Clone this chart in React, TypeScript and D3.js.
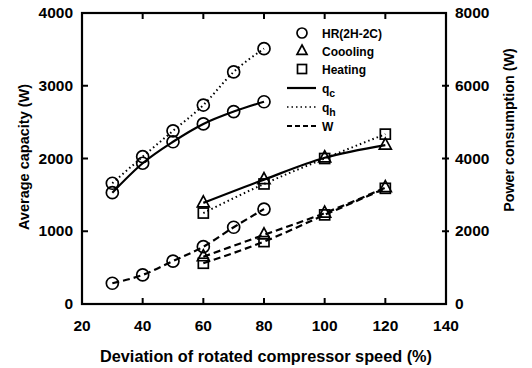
import React from "react";
import * as d3 from "d3";

const hrSpeed = [30, 40, 50, 60, 70, 80];
const hrQc = [1530, 1935, 2230, 2475, 2645, 2780];
const hrQh = [1660, 2025, 2380, 2735, 3190, 3510];
const hrW = [570, 800, 1180, 1575, 2110, 2610];

const convSpeed = [60, 80, 100, 120];
const coolQc = [1390, 1710, 2010, 2185];
const heatQh = [1250, 1650, 2000, 2335];
const coolW = [1300, 1900, 2500, 3200];
const heatW = [1120, 1715, 2450, 3180];

const xTicks = [20, 40, 60, 80, 100, 120, 140];
const yLeftTicks = [0, 1000, 2000, 3000, 4000];
const yRightTicks = [0, 2000, 4000, 6000, 8000];

const W = 532, H = 368;
const L = 82, R = 446, T = 13, B = 304;

export default function App() {
  const x = d3.scaleLinear().domain([20, 140]).range([L, R]);
  const yl = d3.scaleLinear().domain([0, 4000]).range([B, T]);
  const yr = d3.scaleLinear().domain([0, 8000]).range([B, T]);
  const font = "'Liberation Sans', Arial, sans-serif";

  const mk = (xs: number[], ys: number[], ys2: d3.ScaleLinear<number, number>) =>
    d3.line<number>().x((_, i) => x(xs[i])).y((v) => ys2(v)).curve(d3.curveMonotoneX)(ys) || "";

  const circle = (cx: number, cy: number, k: string, r = 6) => (
    <circle key={k} cx={cx} cy={cy} r={r} fill="none" stroke="#000" strokeWidth={1.7} />
  );
  const tri = (cx: number, cy: number, k: string, s = 6) => (
    <path key={k} d={`M${cx},${cy - s - 1}L${cx + s},${cy + s * 0.67}L${cx - s},${cy + s * 0.67}Z`} fill="none" stroke="#000" strokeWidth={1.7} />
  );
  const sq = (cx: number, cy: number, k: string, s = 5) => (
    <rect key={k} x={cx - s} y={cy - s} width={2 * s} height={2 * s} fill="none" stroke="#000" strokeWidth={1.7} />
  );

  const solid = { fill: "none", stroke: "#000", strokeWidth: 2.2 };
  const dotted = { fill: "none", stroke: "#000", strokeWidth: 2, strokeDasharray: "1.5,3" };
  const dashed = { fill: "none", stroke: "#000", strokeWidth: 2.2, strokeDasharray: "7,4" };

  const legendRows = [
    { label: "HR(2H-2C)", kind: "c" },
    { label: "Coooling", kind: "t" },
    { label: "Heating", kind: "s" },
    { label: "q", sub: "c", kind: "solid" },
    { label: "q", sub: "h", kind: "dotted" },
    { label: "W", kind: "dashed" },
  ];
  const legendY = [33, 51, 69, 88, 107, 126];

  return (
    <svg width={W} height={H} style={{ position: "absolute", left: 0, top: 0, background: "#fff" }}>
      {/* lines */}
      <path d={mk(hrSpeed, hrQc, yl)} {...solid} />
      <path d={mk(hrSpeed, hrQh, yl)} {...dotted} />
      <path d={mk(hrSpeed, hrW, yr)} {...dashed} />
      <path d={mk(convSpeed, coolQc, yl)} {...solid} />
      <path d={mk(convSpeed, heatQh, yl)} {...dotted} />
      <path d={mk(convSpeed, coolW, yr)} {...dashed} />
      <path d={mk(convSpeed, heatW, yr)} {...dashed} />

      {/* markers */}
      {hrSpeed.map((s, i) => circle(x(s), yl(hrQc[i]), `a${i}`))}
      {hrSpeed.map((s, i) => circle(x(s), yl(hrQh[i]), `b${i}`))}
      {hrSpeed.map((s, i) => circle(x(s), yr(hrW[i]), `c${i}`))}
      {convSpeed.map((s, i) => tri(x(s), yl(coolQc[i]), `d${i}`))}
      {convSpeed.map((s, i) => sq(x(s), yl(heatQh[i]), `e${i}`))}
      {convSpeed.map((s, i) => tri(x(s), yr(coolW[i]), `f${i}`))}
      {convSpeed.map((s, i) => sq(x(s), yr(heatW[i]), `g${i}`))}

      {/* frame */}
      <rect x={L} y={T} width={R - L} height={B - T} fill="none" stroke="#000" strokeWidth={2.2} />

      {/* x ticks */}
      {xTicks.map((t) => (
        <g key={`x${t}`}>
          {t > 20 && t < 140 && (
            <>
              <line x1={x(t)} x2={x(t)} y1={B} y2={B - 6} stroke="#000" strokeWidth={2} />
              <line x1={x(t)} x2={x(t)} y1={T} y2={T + 6} stroke="#000" strokeWidth={2} />
            </>
          )}
          <text x={x(t)} y={330.5} textAnchor="middle" fontFamily={font} fontWeight="bold" fontSize={15.5}>
            {t}
          </text>
        </g>
      ))}
      {yLeftTicks.map((t) => (
        <g key={`yl${t}`}>
          {t > 0 && t < 4000 && <line x1={L} x2={L + 6} y1={yl(t)} y2={yl(t)} stroke="#000" strokeWidth={2} />}
          <text x={73} y={yl(t) + 5} textAnchor="end" fontFamily={font} fontWeight="bold" fontSize={15.5}>
            {t}
          </text>
        </g>
      ))}
      {yRightTicks.map((t) => (
        <g key={`yr${t}`}>
          {t > 0 && t < 8000 && <line x1={R - 4} x2={R + 3} y1={yr(t)} y2={yr(t)} stroke="#000" strokeWidth={2} />}
          <text x={455} y={yr(t) + 5} textAnchor="start" fontFamily={font} fontWeight="bold" fontSize={15.5}>
            {t}
          </text>
        </g>
      ))}

      {/* axis titles */}
      <text x={266} y={362} textAnchor="middle" fontFamily={font} fontWeight="bold" fontSize={16.3}>
        Deviation of rotated compressor speed (%)
      </text>
      <text transform={`translate(29,157) rotate(-90)`} textAnchor="middle" fontFamily={font} fontWeight="bold" fontSize={14.5}>
        Average capacity  (W)
      </text>
      <text transform={`translate(514,130) rotate(-90)`} textAnchor="middle" fontFamily={font} fontWeight="bold" fontSize={14.3}>
        Power consumption  (W)
      </text>

      {/* legend */}
      {legendRows.map((r, i) => {
        const cy = legendY[i];
        let sym: React.ReactNode = null;
        if (r.kind === "c") sym = circle(302, cy, "lc", 5);
        else if (r.kind === "t") sym = tri(302, cy, "lt", 5);
        else if (r.kind === "s") sym = sq(302, cy, "ls", 4.5);
        else {
          const st = r.kind === "solid" ? solid : r.kind === "dotted" ? { ...dotted, strokeWidth: 1.5 } : { ...dashed, strokeDasharray: "5,3" };
          sym = <line x1={287} x2={316} y1={cy} y2={cy} {...st} />;
        }
        return (
          <g key={`lg${i}`}>
            {sym}
            <text x={322} y={cy + 5} fontFamily={font} fontWeight="bold" fontSize={12}>
              {r.label}
              {r.sub && (
                <tspan dy={4} fontSize={10.5}>
                  {r.sub}
                </tspan>
              )}
            </text>
          </g>
        );
      })}
    </svg>
  );
}
